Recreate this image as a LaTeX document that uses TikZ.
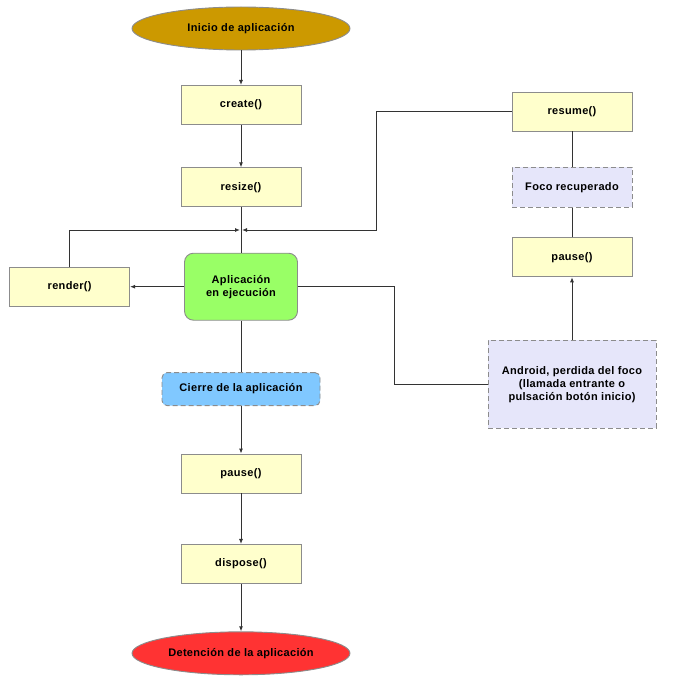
\documentclass[tikz,border=0pt]{standalone}
\usepackage{fontspec}
\setmainfont{Liberation Sans}[LetterSpace=3]
\usetikzlibrary{arrows.meta,positioning,shapes.geometric}
\definecolor{boxfill}{HTML}{FFFFCC}
\definecolor{boxline}{HTML}{8C8C8C}
\definecolor{startfill}{HTML}{CC9900}
\definecolor{stopfill}{HTML}{FF3333}
\definecolor{runfill}{HTML}{99FF66}
\definecolor{closefill}{HTML}{80C8FF}
\definecolor{eventfill}{HTML}{E6E6FA}
\definecolor{wire}{HTML}{333333}

\begin{document}
\begin{tikzpicture}[x=1pt, y=-1pt, every node/.style={font=\fontsize{11}{13}\selectfont\bfseries}, call/.style={draw=boxline,fill=boxfill,minimum width=120pt,minimum height=39pt,inner sep=2pt}, terminal/.style={ellipse,draw=boxline,minimum width=218pt,minimum height=43pt,inner sep=0pt}, event/.style={draw=boxline,dashed,dash pattern=on 5pt off 3pt,fill=eventfill,align=center}, >={Latex[length=5pt,width=4pt]}, line width=0.9pt]
\useasboundingbox (0,0) rectangle (677,687);
\node[terminal,fill=startfill] (inicio) at (241,28.5) {Inicio de aplicación};
\node[call,below=34.5pt of inicio] (create) {create()};
\node[call,below=42.5pt of create] (resize) {resize()};
\node[draw=boxline,fill=runfill,rounded corners=9pt,minimum width=113pt,minimum height=67pt,align=center,below=45.5pt of resize] (app) {Aplicación\\en ejecución};
\node[call,left=54pt of app] (render) {render()};
\node[draw=boxline,dashed,dash pattern=on 5pt off 3pt,fill=closefill,rounded corners=5pt,minimum width=158pt,minimum height=33pt,below=51.5pt of app] (cierre) {Cierre de la aplicación};
\node[call,below=47.5pt of cierre] (pausa) {pause()};
\node[call,below=50.5pt of pausa] (dispose) {dispose()};
\node[terminal,fill=stopfill,below=47.5pt of dispose] (fin) {Detención de la aplicación};
% lado derecho
\node[call] (resume) at (572,111.5) {resume()};
\node[event,minimum width=120pt,minimum height=40pt,below=35.5pt of resume] (foco) {Foco recuperado};
\node[call,below=29.5pt of foco] (pausb) {pause()};
\node[event,minimum width=168pt,minimum height=88pt,below=62.5pt of pausb] (android) {Android, perdida del foco\\(llamada entrante o\\pulsación botón inicio)};
\coordinate (junta) at (241,230);
\coordinate (vuelta) at (376,230);
\coordinate (salida) at (394,384);
\begin{scope}[draw=wire]
\draw[->] (inicio)--(create);\draw[->] (create)--(resize);\draw (resize)--(app);
\draw[->] (render.north) |- ([xshift=-1pt]junta);
\draw[->] (resume.west) -| (vuelta) -- ([xshift=1pt]junta);
\draw[->] (app)--(render);
\draw (app.east) -| (salida |- android.west) -- (android.west);
\draw[->] (android)--(pausb);\draw (pausb)--(foco);\draw (foco)--(resume);
\draw (app)--(cierre);\draw[->] (cierre)--(pausa);\draw[->] (pausa)--(dispose);\draw[->] (dispose)--(fin);
\end{scope}
\end{tikzpicture}
\end{document}
